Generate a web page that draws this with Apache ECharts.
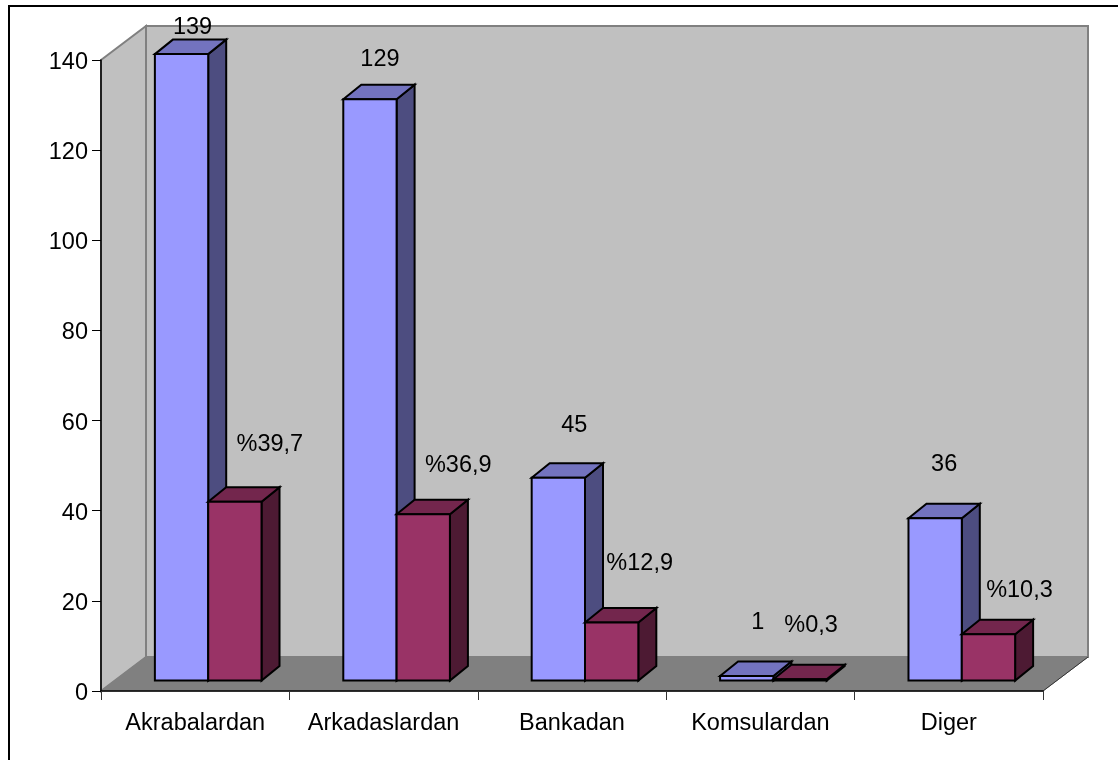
<!DOCTYPE html>
<html><head><meta charset="utf-8">
<style>html,body{margin:0;padding:0;background:#fff}#c{width:1118px;height:760px}</style>
<script src="https://cdn.jsdelivr.net/npm/echarts@6/dist/echarts.min.js"></script>
</head><body><div id="c"></div>
<script>
const categories = ['Akrabalardan','Arkadaslardan','Bankadan','Komsulardan','Diger'];
const counts = [139,129,45,1,36];
const percents = [39.7,36.9,12.9,0.3,10.3];
const yTicks = {min:0,max:140,interval:20};

// layout (pixels)
const WALL = {dx:45, dy:34};
const BASE = {dx:13, dy:-10.4};
const DEPTH = {dx:18, dy:-14.5};
const BAR_SHARE = 0.283;
const countLabelOffset = [[11,-27],[10,-40],[16,-52],[11,-54],[9,-54]];
const percentLabelOffset = [[35,-57],[35,-49],[28,-59],[11,-54],[31,-44]];
const FONT = '23.5px "Liberation Sans", Arial, sans-serif';

function poly(points, fill, stroke, lw){
  return {type:'polygon', shape:{points}, style:{fill, stroke:stroke||fill, lineWidth:lw==null?2:lw, lineJoin:'miter'}};
}
function box(x0,x1,y0,y1,cFront,cTop,cSide){
  const d=DEPTH, s='#000';
  return [
    poly([[x1,y1],[x1+d.dx,y1+d.dy],[x1+d.dx,y0+d.dy],[x1,y0]],cSide,s),
    poly([[x0,y1],[x0+d.dx,y1+d.dy],[x1+d.dx,y1+d.dy],[x1,y1]],cTop,s),
    poly([[x0,y0],[x1,y0],[x1,y1],[x0,y1]],cFront,s)
  ];
}
function barRender(which, colors, texts, offs){
  return function(params, api){
    const i=api.value(0), v=api.value(1);
    const c0=api.coord([i,0]), c1=api.coord([i,v]);
    const w=api.size([1,0])[0]*BAR_SHARE;
    const cx=c0[0]+BASE.dx;
    const x0=which===0?cx-w:cx, x1=x0+w;
    const y0=c0[1]+BASE.dy, y1=c1[1]+BASE.dy;
    const kids=box(x0,x1,y0,y1,colors[0],colors[1],colors[2]);
    kids.push({type:'text',z2:50,style:{text:texts[i],x:(x0+x1)/2+offs[i][0],y:y1+offs[i][1],
      font:FONT,fill:'#000',align:'center',verticalAlign:'middle'}});
    return {type:'group',children:kids};
  };
}
function wallRender(params, api){
  const slot=api.size([1,0])[0];
  const a=api.coord([0,0]), b=api.coord([categories.length-1,0]), t=api.coord([0,yTicks.max]);
  const L=a[0]-slot/2, R=b[0]+slot/2, B=a[1], T=t[1], W=WALL;
  return {type:'group',children:[
    poly([[L+W.dx,T-W.dy],[R+W.dx,T-W.dy],[R+W.dx,B-W.dy],[L+W.dx,B-W.dy]],'#c0c0c0','#808080',2),
    poly([[L,T],[L+W.dx,T-W.dy],[L+W.dx,B-W.dy],[L,B]],'#c0c0c0','#808080',2),
    poly([[L+W.dx,B-W.dy],[R+W.dx,B-W.dy],[R,B],[L,B]],'#808080','#808080',1),
    {type:'line',shape:{x1:R,y1:B,x2:R+W.dx,y2:B-W.dy},style:{stroke:'#333',lineWidth:1}}
  ]};
}
const pctText = percents.map(p=>'%'+String(p).replace('.',','));
const cntText = counts.map(String);
const chart = echarts.init(document.getElementById('c'),null,{renderer:'canvas'});
chart.setOption({
  animation:false,
  backgroundColor:'#fff',
  graphic:[
    {type:'line',z:-1,shape:{x1:9,y1:6,x2:1118,y2:6},style:{stroke:'#000',lineWidth:2}},
    {type:'line',z:-1,shape:{x1:9,y1:5,x2:9,y2:760},style:{stroke:'#000',lineWidth:2}}
  ],
  grid:{left:101,top:60,width:942,height:631},
  xAxis:{type:'category',data:categories,z:10,boundaryGap:true,
    axisLine:{lineStyle:{color:'#000',width:1.5}},
    axisTick:{show:true,interval:0,alignWithLabel:false,length:9,lineStyle:{color:'#333',width:1}},
    axisLabel:{interval:0,color:'#000',fontFamily:'"Liberation Sans"',fontSize:23.5,margin:21}},
  yAxis:{type:'value',min:yTicks.min,max:yTicks.max,interval:yTicks.interval,z:10,
    axisLine:{show:true,lineStyle:{color:'#000',width:1.5}},
    axisTick:{show:true,length:9,lineStyle:{color:'#000',width:1}},
    splitLine:{show:false},
    axisLabel:{color:'#000',fontFamily:'"Liberation Sans"',fontSize:23.5,margin:13,
      formatter:v=>'{n|'+v+'}',rich:{n:{fontFamily:'"Liberation Sans"',fontSize:23.5,color:'#000',padding:[5,0,0,0]}}}},
  series:[
    {type:'custom',name:'wall',clip:false,z:1,silent:true,renderItem:wallRender,data:[[0,0]],encode:{x:0,y:1}},
    {type:'custom',name:'Sayi',clip:false,z:3,renderItem:barRender(0,['#9999FF','#7373BF','#4D4D80'],cntText,countLabelOffset),
      data:counts.map((v,i)=>[i,v]),encode:{x:0,y:1}},
    {type:'custom',name:'Yuzde',clip:false,z:4,renderItem:barRender(1,['#993366','#73264D','#4D1A33'],pctText,percentLabelOffset),
      data:percents.map((v,i)=>[i,v]),encode:{x:0,y:1}}
  ]
});
</script></body></html>
